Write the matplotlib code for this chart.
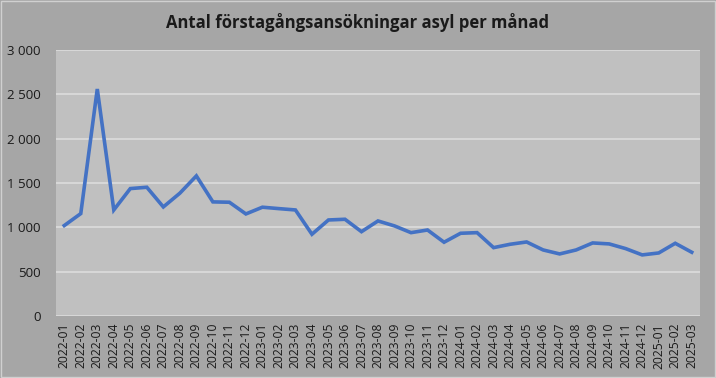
import matplotlib
matplotlib.use("Agg")
import matplotlib.pyplot as plt
from matplotlib.ticker import FuncFormatter

months = ["2022-01","2022-02","2022-03","2022-04","2022-05","2022-06","2022-07","2022-08","2022-09","2022-10","2022-11","2022-12",
          "2023-01","2023-02","2023-03","2023-04","2023-05","2023-06","2023-07","2023-08","2023-09","2023-10","2023-11","2023-12",
          "2024-01","2024-02","2024-03","2024-04","2024-05","2024-06","2024-07","2024-08","2024-09","2024-10","2024-11","2024-12",
          "2025-01","2025-02","2025-03"]
values = [1020, 1155, 2560, 1196, 1437, 1452, 1230, 1385, 1580, 1287, 1283, 1151,
          1227, 1211, 1196, 922, 1083, 1091, 951, 1072, 1016, 940, 970, 832,
          933, 940, 771, 809, 835, 745, 700, 745, 824, 813, 760, 689,
          711, 820, 719]
yticks = [0, 500, 1000, 1500, 2000, 2500, 3000]

plt.rcParams['font.family'] = ['Open Sans', 'DejaVu Sans']

fig = plt.figure(figsize=(7.16, 3.78), dpi=100, facecolor="#a6a6a6")
ax = fig.add_axes([56/716, 1-316/378, 644/716, 266/378])
ax.set_facecolor("#c0c0c0")
x = list(range(len(months)))
ax.plot(x, values, color="#4472C4", lw=2.6, solid_joinstyle="miter")
ax.set_xlim(-0.5, len(months)-0.5)
ax.set_ylim(0, 3000)
ax.set_yticks(yticks)
ax.yaxis.set_major_formatter(FuncFormatter(lambda v, p: f"{int(v):,}".replace(",", " ")))
ax.set_xticks(x)
ax.set_xticklabels(months, rotation=90, fontsize=8.7, color="#1a1a1a")
ax.tick_params(axis="y", labelsize=9.5, labelcolor="#1a1a1a", length=0, pad=11)
ax.tick_params(axis="x", length=0, pad=5)
ax.grid(axis="y", color="#dadada", lw=1.3)
ax.set_axisbelow(True)
for s in ax.spines.values():
    s.set_visible(False)
fig.text(0.5, 1-22/378, "Antal förstagångsansökningar asyl per månad", ha="center", va="center",
         fontsize=12, fontweight="bold", color="#1a1a1a")
fig.patches.append(plt.Rectangle((0.001, 0.002), 0.997, 0.996, transform=fig.transFigure,
                                 fill=False, edgecolor="#d0d0d0", lw=1))
fig.savefig("out.png", dpi=100, facecolor=fig.get_facecolor())
